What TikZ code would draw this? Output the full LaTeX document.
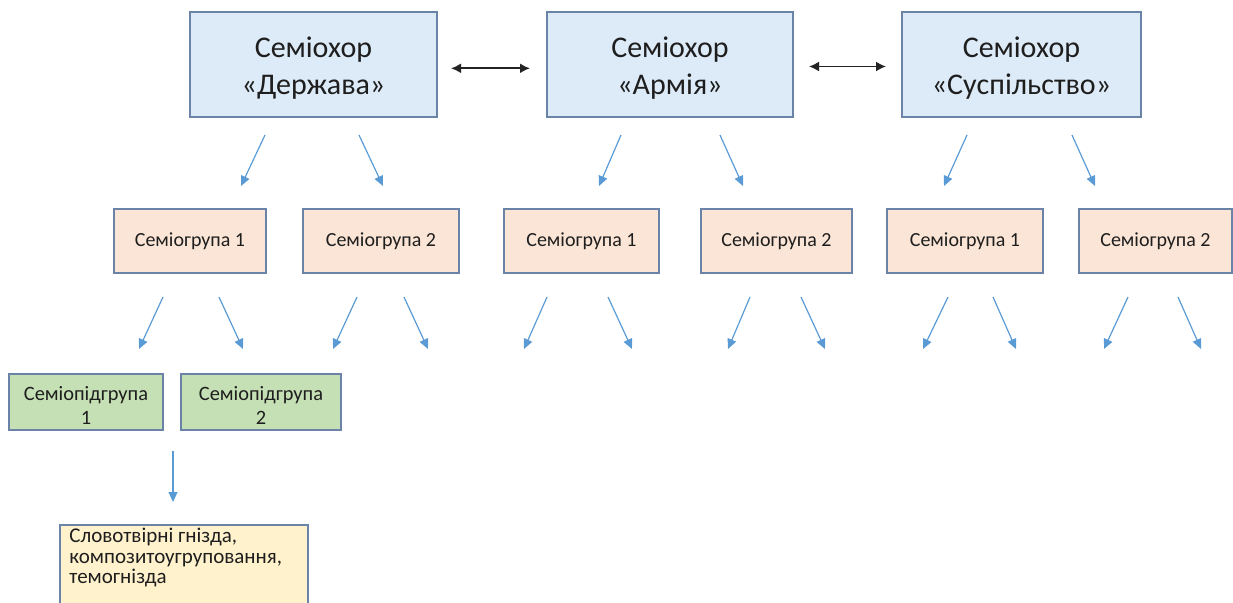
\documentclass[tikz,border=0pt]{standalone}
\usepackage{fontspec}
\setmainfont{Carlito}
\usetikzlibrary{arrows.meta}

\definecolor{boxline}{RGB}{106,131,166}
\definecolor{chorfill}{RGB}{221,234,247}
\definecolor{groupfill}{RGB}{251,229,214}
\definecolor{subfill}{RGB}{197,224,180}
\definecolor{nestfill}{RGB}{255,242,204}
\definecolor{arrowblue}{RGB}{91,155,213}
\definecolor{txt}{RGB}{30,30,30}
\definecolor{tiecol}{RGB}{35,35,35}

\newcommand{\liftstrut}[1]{\rule{0pt}{#1}}

\begin{document}
\begin{tikzpicture}[x=0.5pt,y=-0.5pt,
  box/.style={draw=boxline, line width=1pt, inner sep=0pt, align=center, text=txt},
  chor/.style={box, fill=chorfill, minimum height=52.5pt, font=\fontsize{15}{18.5}\selectfont},
  group/.style={box, fill=groupfill, minimum height=32pt, font=\fontsize{10}{12}\selectfont},
  subgroup/.style={box, fill=subfill, minimum height=28pt, font=\fontsize{10.2}{12.4}\selectfont},
  nest/.style={box, fill=nestfill, anchor=north west},
  link/.style={draw=arrowblue, line width=0.6pt, -{Triangle[length=5pt,width=4.5pt]}},
  tie/.style={draw=tiecol, line width=0.9pt, {Latex[length=5pt,width=5pt]}-{Latex[length=5pt,width=5pt]}}
]
\useasboundingbox (0,0) rectangle (1233,602);
\clip (0,0) rectangle (1233,602);

% semiochores
\node[chor, minimum width=123.5pt] (T1) at (313.5,64.5) {\liftstrut{14pt}Семіохор\\«Держава»};
\node[chor, minimum width=123pt]   (T2) at (670,64.5)   {\liftstrut{14pt}Семіохор\\«Армія»};
\node[chor, minimum width=119.5pt] (T3) at (1021.5,64.5) {\liftstrut{14pt}Семіохор\\«Суспільство»};

\draw[tie, shorten <=6.5pt, shorten >=8pt] ([yshift=-1.9pt]T1.east) -- ([yshift=-1.9pt]T2.west);
\draw[tie, shorten <=7.5pt, shorten >=7.5pt] ([yshift=-1pt]T2.east) -- ([yshift=-1pt]T3.west);

% semiogroups
\node[group, minimum width=76pt]   (S1) at (190,241)    {Семіогрупа 1};
\node[group, minimum width=78pt]   (S2) at (381,241)    {Семіогрупа 2};
\node[group, minimum width=77.5pt] (S3) at (581.5,241)  {Семіогрупа 1};
\node[group, minimum width=75.5pt] (S4) at (776.5,241)  {Семіогрупа 2};
\node[group, minimum width=78pt]   (S5) at (965,241)    {Семіогрупа 1};
\node[group, minimum width=76.5pt] (S6) at (1155.5,241) {Семіогрупа 2};

% semiosubgroups
\node[subgroup, minimum width=77pt] (G1) at (86,402)  {\liftstrut{10.5pt}Семіопідгрупа\\1};
\node[subgroup, minimum width=80pt] (G2) at (261,402) {\liftstrut{10.5pt}Семіопідгрупа\\2};

% word-formation nests
\node[nest, minimum width=124pt, minimum height=60pt] (Y) at (59,524) {};
\node[anchor=north west, inner sep=0pt, align=left, text=txt,
      font=\fontsize{10.5}{10.1}\selectfont] (Ytext) at (69,528)
  {Словотвірні гнізда,\\композитоугруповання,\\темогнізда};

% arrows from semiochores to semiogroups
\coordinate (a1s) at (265,135);  \coordinate (a1e) at (241,186);
\coordinate (a2s) at (359,135);  \coordinate (a2e) at (383,186);
\coordinate (a3s) at (621,135);  \coordinate (a3e) at (599,186);
\coordinate (a4s) at (720,135);  \coordinate (a4e) at (743,186);
\coordinate (a5s) at (967,135);  \coordinate (a5e) at (944,186);
\coordinate (a6s) at (1072,135); \coordinate (a6e) at (1095,186);
\foreach \i in {1,...,6} \draw[link] (a\i s) -- (a\i e);

% arrows from semiogroups to the next level
\coordinate (b1s) at (163,297);  \coordinate (b1e) at (139,349);
\coordinate (b2s) at (219,297);  \coordinate (b2e) at (243,349);
\coordinate (b3s) at (357,297);  \coordinate (b3e) at (333,349);
\coordinate (b4s) at (404,297);  \coordinate (b4e) at (428,349);
\coordinate (b5s) at (547,297);  \coordinate (b5e) at (524,349);
\coordinate (b6s) at (608,297);  \coordinate (b6e) at (632,349);
\coordinate (b7s) at (750,297);  \coordinate (b7e) at (728,349);
\coordinate (b8s) at (801,297);  \coordinate (b8e) at (825,349);
\coordinate (b9s) at (948,297);  \coordinate (b9e) at (923,349);
\coordinate (b10s) at (993,297); \coordinate (b10e) at (1016,349);
\coordinate (b11s) at (1128,297); \coordinate (b11e) at (1104,349);
\coordinate (b12s) at (1178,297); \coordinate (b12e) at (1201,349);
\foreach \i in {1,...,12} \draw[link] (b\i s) -- (b\i e);

% arrow from semiosubgroup 1 to the nests
\coordinate (c1s) at (173,451); \coordinate (c1e) at (173,502);
\draw[link] (c1s) -- (c1e);
\end{tikzpicture}
\end{document}
